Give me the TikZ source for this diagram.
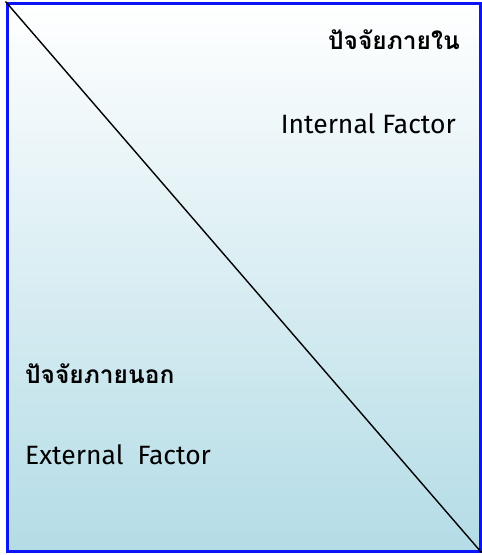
\documentclass[tikz,border=0pt]{standalone}
\usepackage{fontspec}
\newfontfamily\thaifont[Script=Thai]{Loma}
\newfontfamily\latinfont{Fira Sans}
\definecolor{FrameBlue}{HTML}{0A14F5}
\definecolor{ShadeBlue}{HTML}{B4DCE6}
\usetikzlibrary{positioning}

\begin{document}
\begin{tikzpicture}[x=1pt, y=-1pt,
      frame/.style={rectangle, draw=FrameBlue, line width=3pt,
        top color=white, bottom color=ShadeBlue,
        minimum width=473pt, minimum height=548pt, inner sep=0pt},
      th/.style={font=\thaifont\bfseries\fontsize{24.5}{28}\selectfont, inner sep=0pt},
      en/.style={font=\latinfont\fontsize{26.5}{30}\selectfont, inner sep=0pt}]
      \useasboundingbox (0,0) rectangle (482,555);
      \node[frame] (box) at (243.5,277) {};
      \draw[line width=1.4pt] (box.north west)--(box.south east);
      \node[th, anchor=east] (thIn) at (460,40) {ปัจจัยภายใน};
      \node[en, anchor=east] (enIn) at (456,124) {Internal Factor};
      \node[th, anchor=west] (thOut) at (25,374) {ปัจจัยภายนอก};
      \node[en, anchor=west] (enOut) at (25,455) {External\ \ Factor};
    \end{tikzpicture}
\end{document}
